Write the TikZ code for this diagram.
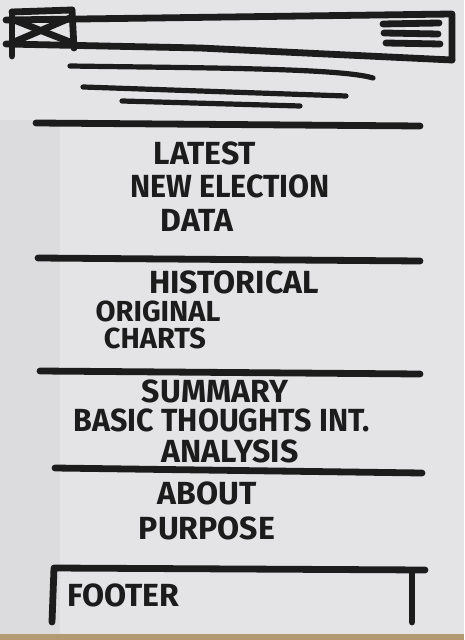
\documentclass[tikz,border=0pt]{standalone}
\usepackage{fontspec}
\setmainfont{Fira Sans}
\begin{document}
\begin{tikzpicture}[x=0.5pt,y=-0.5pt,
  ink/.style={draw=inkc,line width=3.4pt,line cap=round,line join=round},
  thin/.style={draw=inkc,line width=2.6pt,line cap=round},
  hand/.style={text=inkc,font=\bfseries\fontsize{16}{16}\selectfont,inner sep=0pt,anchor=center},
  handsm/.style={hand,font=\bfseries\fontsize{14.5}{14.5}\selectfont}]
\definecolor{inkc}{HTML}{1C1C1C}
\definecolor{paperc}{HTML}{E4E3E6}
\definecolor{shadowc}{HTML}{DCDBDE}
\definecolor{tablec}{HTML}{B49A72}
\useasboundingbox (0,0) rectangle (464,640);
\fill[paperc] (0,0) rectangle (464,640);
\fill[shadowc] (0,120) rectangle (60,634);
\fill[tablec] (0,634) rectangle (464,640);
% header bar
\draw[ink] (6,20) -- (452,14) -- (452,60);
\draw[ink] (6,44) -- (200,48) -- (452,60);
\draw[ink] (12,12) -- (12,56);
\draw[ink] (72,10) -- (74,48);
\draw[ink] (12,12) -- (72,10);
\draw[ink] (14,20) -- (70,42);
\draw[ink] (70,18) -- (14,42);
% hamburger
\draw[ink] (383,24) -- (439,23);
\draw[ink] (384,33) -- (438,34);
\draw[ink] (386,43) -- (440,44);
% subtitle lines
\draw[thin] (70,66) .. controls (200,68) and (340,68) .. (373,78);
\draw[thin] (83,87) -- (346,96);
\draw[thin] (122,101) -- (300,106);
% dividers
\coordinate (d1a) at (36,123); \coordinate (d1b) at (420,126);
\coordinate (d2a) at (38,258); \coordinate (d2b) at (420,261);
\coordinate (d3a) at (40,371); \coordinate (d3b) at (420,374);
\coordinate (d4a) at (55,468); \coordinate (d4b) at (422,473);
\draw[ink] (d1a) -- (d1b);
\draw[ink] (d2a) -- (d2b);
\draw[ink] (d3a) -- (d3b);
\draw[ink] (d4a) -- (d4b);
% texts
\node[hand] (t1) at (205,153) {LATEST};
\node[hand,xscale=0.95] (t2) at (230,186) {NEW ELECTION};
\node[hand] (t3) at (197,220) {DATA};
\node[hand] (t4) at (234,282) {HISTORICAL};
\node[handsm] (t5) at (158,311) {ORIGINAL};
\node[handsm] (t6) at (155,338) {CHARTS};
\node[hand] (t7) at (215,391) {SUMMARY};
\node[hand,xscale=0.95] (t8) at (222,420) {BASIC THOUGHTS INT.};
\node[hand] (t9) at (230,451) {ANALYSIS};
\node[hand] (t10) at (207,493) {ABOUT};
\node[hand] (t11) at (207,528) {PURPOSE};
% footer
\coordinate (f1) at (52,622); \coordinate (f2) at (54,568);
\coordinate (f3) at (425,570); \coordinate (f4) at (412,572); \coordinate (f5) at (412,622);
\draw[ink] (f1) -- (f2) -- (f3);
\draw[ink] (f4) -- (f5);
\node[hand] (t12) at (123,595) {FOOTER};
\end{tikzpicture}
\end{document}
